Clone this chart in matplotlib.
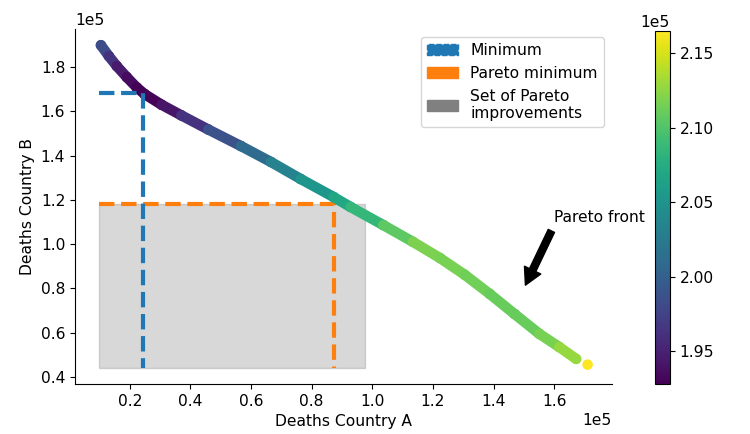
import numpy as np
import matplotlib
matplotlib.use("Agg")
import matplotlib.pyplot as plt
import matplotlib.patches as mpatches
from matplotlib.collections import LineCollection
from matplotlib.ticker import ScalarFormatter

plt.rcParams["font.size"] = 11.2

# Pareto front (deaths, absolute numbers)
deaths_a = np.array([10500, 13100, 15700, 19000, 22300, 24900, 30500, 37000,
                     45900, 56700, 66600, 76400, 87200, 92800, 103600, 113400,
                     122300, 130500, 138700, 146900, 155100, 161600, 167200,
                     171000])
deaths_b = np.array([189900, 185000, 180500, 175500, 170800, 167800, 163000,
                     158200, 151800, 144300, 137100, 129400, 121300, 116800,
                     108600, 101000, 93700, 86100, 77500, 68400, 59400, 53500,
                     48100, 45500])
# colour value of each point (total deaths)
total_deaths = np.array([199000, 197500, 195000, 194000, 193000, 192800,
                         193200, 195000, 197500, 200000, 202000, 204500,
                         206000, 207800, 209400, 211800, 211800, 211500,
                         211200, 210800, 211200, 212000, 213500, 216500])

min_point = (24500, 168500)
pareto_min = (87500, 118000)
improve_x = (10000, 97700)
improve_y = (44000, 118000)
front_label = "Pareto front"
front_xy = (150000, 80000)
front_text_xy = (160000, 110000)

fig = plt.figure(figsize=(7.5, 4.34), dpi=100)
ax = fig.add_axes([0.1, 0.115, 0.716, 0.818])
cax = fig.add_axes([0.873, 0.115, 0.02, 0.814])

# gray region of pareto improvements
ax.add_patch(mpatches.Rectangle((improve_x[0], improve_y[0]),
                                improve_x[1] - improve_x[0],
                                improve_y[1] - improve_y[0],
                                facecolor="gray", edgecolor="gray", alpha=0.3, lw=1))

sc = ax.scatter(deaths_a, deaths_b, c=total_deaths, cmap="viridis", s=58,
                zorder=3, edgecolors="none")
pts = np.column_stack([deaths_a[:-1], deaths_b[:-1]]).reshape(-1, 1, 2)
segs = np.concatenate([pts[:-1], pts[1:]], axis=1)
lc = LineCollection(segs, cmap="viridis", norm=sc.norm, linewidths=7.5,
                    capstyle="round", joinstyle="round", zorder=3)
lc.set_array((total_deaths[:-2] + total_deaths[1:-1]) / 2)
ax.add_collection(lc)

ax.plot([improve_x[0], min_point[0], min_point[0]],
        [min_point[1], min_point[1], improve_y[0]],
        ls="--", lw=3, color="tab:blue", zorder=4)
ax.plot([improve_x[0], pareto_min[0], pareto_min[0]],
        [pareto_min[1], pareto_min[1], improve_y[0]],
        ls="--", lw=3, color="tab:orange", zorder=2)

ax.annotate(front_label, xy=front_xy, xytext=front_text_xy,
            arrowprops=dict(facecolor="black", shrink=0.05, width=5, headwidth=13))

handles = [mpatches.Patch(color="tab:blue", ls="--", label="Minimum"),
           mpatches.Patch(color="tab:orange", label="Pareto minimum"),
           mpatches.Patch(color="gray", label="Set of Pareto\nimprovements")]
ax.legend(handles=handles, loc="upper right")

ax.set_xlabel("Deaths Country A")
ax.set_ylabel("Deaths Country B")
ax.spines["top"].set_visible(False)
ax.spines["right"].set_visible(False)
ax.ticklabel_format(style="sci", axis="both", scilimits=(0, 0))
ax.autoscale_view()

cbar = fig.colorbar(sc, cax=cax)
fmt = ScalarFormatter(useOffset=False)
fmt.set_powerlimits((0, 0))
cbar.formatter = fmt
cbar.update_ticks()

fig.savefig("out.png", dpi=100)
